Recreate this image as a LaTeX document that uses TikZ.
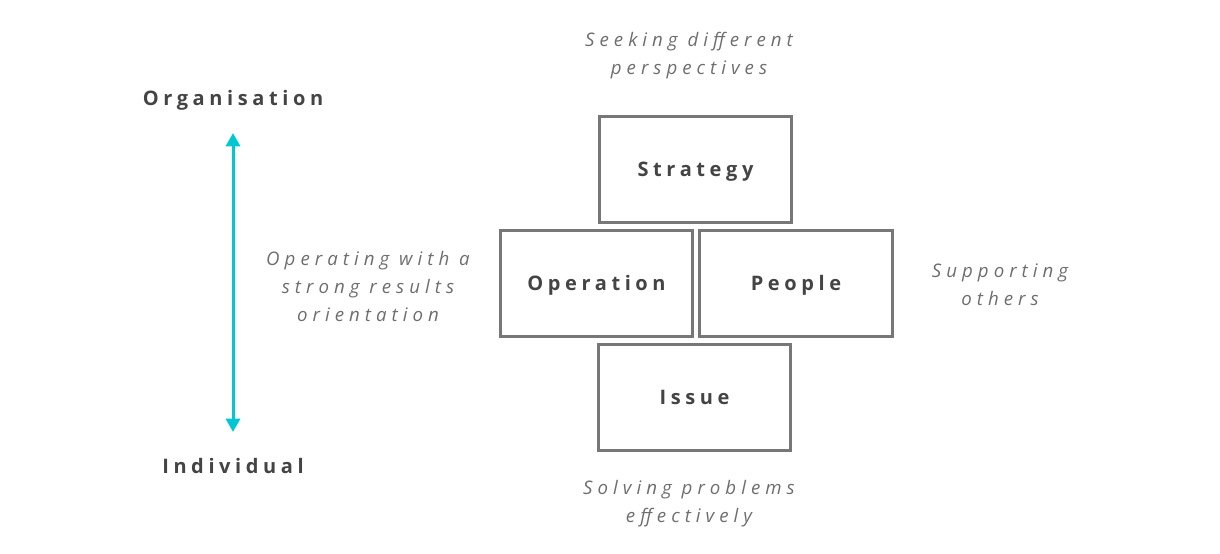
\documentclass[tikz,border=0pt]{standalone}
\usepackage{fontspec}
\usepackage{tikz}
\usetikzlibrary{arrows.meta}
\newfontfamily\headfont{Open Sans}[LetterSpace=23]
\newfontfamily\notefont{Open Sans}[LetterSpace=27]
\definecolor{boxgray}{HTML}{777777}
\definecolor{textdark}{HTML}{444444}
\definecolor{notegray}{HTML}{6E6E6E}
\definecolor{axiscyan}{HTML}{00C8D2}
\tikzset{
  area/.style={draw=boxgray, line width=2.25pt, minimum width=144.5pt, minimum height=79.5pt, inner sep=0pt,
    text height=11.5pt, text depth=0pt, font=\headfont\bfseries\fontsize{15}{18}\selectfont, text=textdark},
  level/.style={inner sep=0pt, text height=11.5pt, text depth=0pt, font=\headfont\bfseries\fontsize{15}{18}\selectfont, text=textdark},
  note/.style={inner sep=0pt, align=center, font=\notefont\itshape\fontsize{14}{21}\selectfont, text=notegray}
}
\begin{document}
\begin{tikzpicture}[x=0.75pt,y=-0.75pt]
\useasboundingbox (0,0) rectangle (1220,553);
% the four areas
\node[area] (strategy) at (695.5,169) {Strategy};
\node[area] (operation) at (596.5,283) {Operation};
\node[area] (people) at (796,283) {People};
\node[area] (issue) at (694.5,397) {Issue};
% what each area means
\node[note] (seeking) at (689,56) {Seeking different\\perspectives};
\node[note] (operating) at (368,286) {Operating with a\\strong results\\orientation};
\node[note] (supporting) at (1000,285) {Supporting\\others};
\node[note] (solving) at (689,504) {Solving problems\\effectively};
% vertical scale
\node[level] (organisation) at (233,98) {Organisation};
\node[level] (individual) at (233,466) {Individual};
\coordinate (top) at (233,133);
\coordinate (bottom) at (233,432);
\draw[axiscyan, line width=2.25pt, {Triangle[width=10.5pt,length=10pt]}-{Triangle[width=10.5pt,length=10pt]}] (top) -- (bottom);
\end{tikzpicture}
\end{document}
